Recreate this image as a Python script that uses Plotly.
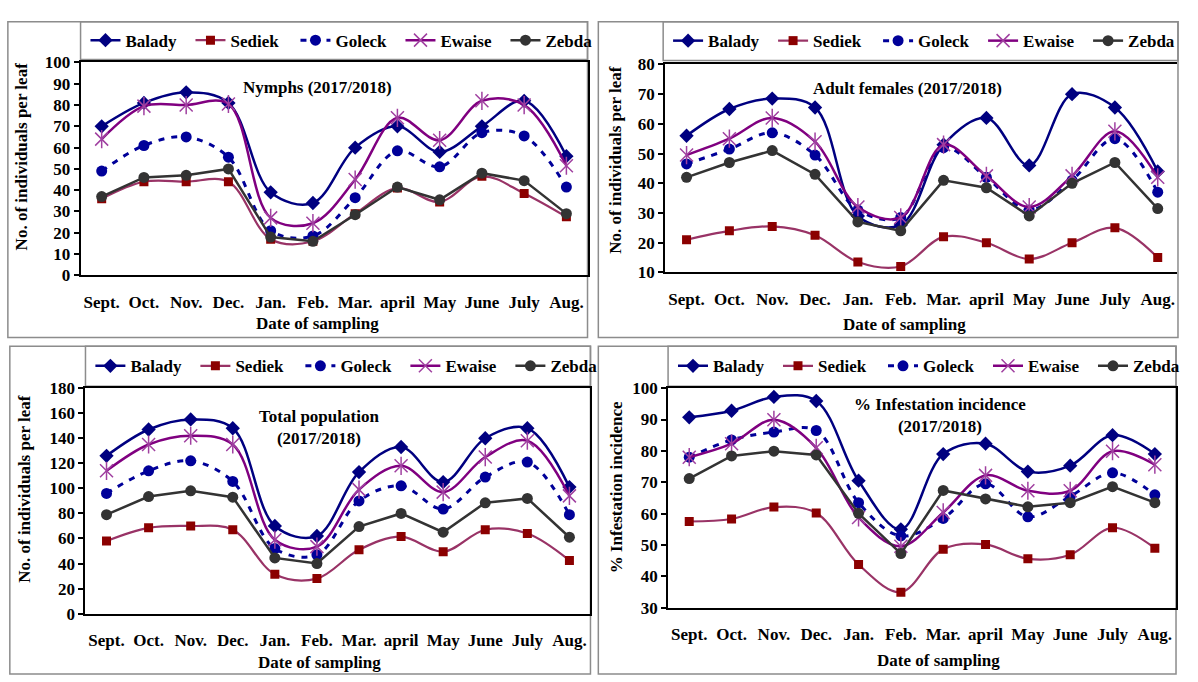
import plotly.graph_objects as go

W, H = 1198, 682

months = ["Sept.", "Oct.", "Nov.", "Dec.", "Jan.", "Feb.", "Mar.", "april", "May", "June", "July", "Aug."]
series_names = ["Balady", "Sediek", "Goleck", "Ewaise", "Zebda"]

# Nymphs
balady_n = [70, 81, 86, 81, 39, 34, 60, 70, 58, 70, 82, 56]
sediek_n = [36, 44, 44, 44, 17, 16, 29, 41, 34.5, 46.5, 38.5, 27.5]
goleck_n = [49, 61, 65, 55.5, 21, 18.5, 36.5, 58.5, 51, 67, 65.5, 41.5]
ewaise_n = [64, 79.5, 80, 80.5, 27, 24.5, 45, 74, 63.5, 82, 80, 51.5]
zebda_n = [37, 46, 47, 50, 18, 16, 28.5, 41.5, 35.5, 48, 44.5, 29]

# Adult females
balady_a = [56, 65, 68.5, 65.5, 29, 26, 53, 62, 46, 70, 65.5, 44]
sediek_a = [21, 24, 25.5, 22.5, 13.5, 12, 22, 20, 14.5, 20, 25, 15]
goleck_a = [46.5, 51.5, 57, 49.5, 31, 28.5, 52, 42, 31, 41, 55, 37]
ewaise_a = [49.5, 55, 62, 54, 32, 28.5, 53, 42.5, 32, 42.5, 57.5, 42]
zebda_a = [42, 47, 51, 43, 27, 24, 41, 38.5, 29, 40, 47, 31.5]

# Total population
balady_t = [126, 147, 155, 148, 70, 62, 113, 133, 105, 140, 148, 101]
sediek_t = [58, 68.5, 70, 67, 31.5, 28, 51, 61.5, 49.5, 67, 64, 42.5]
goleck_t = [96, 114, 122, 105.5, 52, 47, 90, 102, 83.5, 109, 121, 79]
ewaise_t = [114, 135, 142, 135, 59, 53.5, 99, 118, 97, 125, 138, 94]
zebda_t = [79, 93.5, 98, 93, 44.5, 40, 69.5, 80, 65, 88.5, 92, 61]

# % Infestation incidence
balady_i = [90.7, 92.8, 97.2, 95.9, 70.5, 55, 79, 82.3, 73.4, 75.3, 85, 79]
sediek_i = [57.5, 58.3, 62.1, 60.2, 43.8, 35, 48.7, 50.2, 45.6, 46.9, 55.5, 49]
goleck_i = [78, 83.5, 86, 86.5, 63.5, 52.9, 58.5, 69.5, 59, 65.5, 73, 66]
ewaise_i = [78, 82.3, 89.9, 81, 58.8, 49.6, 60.4, 72.2, 67.3, 67.3, 79.9, 75.6]
zebda_i = [71.2, 78.4, 79.9, 78.7, 60.1, 47.3, 67.4, 64.7, 62.2, 63.5, 68.6, 63.5]

panel_titles = ["Nymphs (2017/2018)", "Adult females (2017/2018)",
                "Total population<br>(2017/2018)", "% Infestation incidence<br>(2017/2018)"]
y_titles = ["No. of individuals per leaf", "No. of individuals per leaf",
            "No. of individuals per leaf", "% Infestation incidence"]
x_title = "Date of sampling"

panels_data = [
    [balady_n, sediek_n, goleck_n, ewaise_n, zebda_n],
    [balady_a, sediek_a, goleck_a, ewaise_a, zebda_a],
    [balady_t, sediek_t, goleck_t, ewaise_t, zebda_t],
    [balady_i, sediek_i, goleck_i, ewaise_i, zebda_i],
]

FONT = "Liberation Serif"
EW_MARK = "#A040A0"


def px(x):
    return x / W


def py(y):
    return 1 - y / H


styles = {
    "Balady": dict(line=dict(color="#000080", width=2.5, shape="spline"),
                   marker=dict(symbol="diamond", size=11, color="#000080")),
    "Sediek": dict(line=dict(color="#993366", width=2.2, shape="spline"),
                   marker=dict(symbol="square", size=9, color="#8B0000")),
    "Goleck": dict(line=dict(color="#000099", width=3, shape="spline", dash="6px,7px"),
                   marker=dict(symbol="circle", size=11, color="#000099")),
    "Ewaise": dict(line=dict(color="#800080", width=2.5, shape="spline"),
                   marker=dict(symbol="x-thin-open", size=13,
                               line=dict(color=EW_MARK, width=1.5), color=EW_MARK)),
    "Zebda": dict(line=dict(color="#333333", width=2.5, shape="linear"),
                  marker=dict(symbol="circle", size=11, color="#333333")),
}

# panel geometry in pixels: plot left, right, top, bottom
geo = [
    dict(l=82, r=598, t=55, b=274, yr=[0, 100], dt=10, xr=[-0.5, 11.5],
         box=(8, 13, 598, 338), leg=(82, 13, 598, 52)),
    dict(l=677, r=1198, t=57, b=271, yr=[10, 80], dt=10, xr=[-0.5, 11.45],
         box=(609, 13, 1199, 338), leg=(675, 13, 1199, 53)),
    dict(l=87, r=601, t=390, b=622, yr=[0, 180], dt=20, xr=[-0.5, 11.5],
         box=(10, 347, 601, 684), leg=(87, 347, 601, 388)),
    dict(l=680, r=1197, t=390, b=616, yr=[30, 100], dt=10, xr=[-0.5, 11.5],
         box=(609, 347, 1197, 684), leg=(680, 347, 1197, 388)),
]

title_pos = [(323, 81), (924, 82), (325, 430), (957, 418)]
ytitle_pos = [(22, 152), (627, 155), (25, 494), (627, 492)]
xtitle_pos = [(323, 324), (921, 325), (325, 672), (955, 670)]

fig = go.Figure()
layout = dict(width=W, height=H, margin=dict(l=0, r=0, t=0, b=0),
              paper_bgcolor="white", plot_bgcolor="white",
              font=dict(family=FONT, size=16, color="black", weight="bold"))
annotations = []
shapes = []

for k in range(4):
    g = geo[k]
    sfx = "" if k == 0 else str(k + 1)
    legname = "legend" + sfx
    for name, vals in zip(series_names, panels_data[k]):
        st = styles[name]
        fig.add_trace(go.Scatter(
            x=months, y=vals, name=name, mode="lines+markers",
            line=st["line"], marker=st["marker"],
            xaxis="x" + sfx, yaxis="y" + sfx, legend=legname, legendgroup=name,
        ))
        if name == "Ewaise":
            # vertical stroke that turns the x marker into a star marker
            fig.add_trace(go.Scatter(
                x=months, y=vals, name=name, mode="markers", showlegend=False,
                marker=dict(symbol="line-ns-open", size=13, color=EW_MARK,
                            line=dict(color=EW_MARK, width=1.5)),
                xaxis="x" + sfx, yaxis="y" + sfx, legend=legname, legendgroup=name,
                hoverinfo="skip",
            ))
    layout["xaxis" + sfx] = dict(
        domain=[px(g["l"]), min(1.0, px(g["r"]))], anchor="y" + sfx,
        type="category", range=g["xr"], showgrid=False, zeroline=False,
        showline=True, linecolor="black", linewidth=2, mirror=True,
        ticks="", tickfont=dict(family=FONT, size=17, weight="bold"),
        ticklabelstandoff=10,
    )
    layout["yaxis" + sfx] = dict(
        domain=[py(g["b"]), py(g["t"])], anchor="x" + sfx,
        range=g["yr"], dtick=g["dt"], showgrid=False, zeroline=False,
        showline=True, linecolor="black", linewidth=2, mirror=(k != 1),
        ticks="outside", ticklen=5, tickwidth=1.5, tickcolor="black",
        tickfont=dict(family=FONT, size=17, weight="bold"),
    )
    lx0, ly0, lx1, ly1 = g["leg"]
    layout[legname] = dict(
        orientation="h", x=px(lx0 + 5), y=py((ly0 + ly1) / 2),
        xanchor="left", yanchor="middle", bgcolor="rgba(0,0,0,0)",
        borderwidth=0, font=dict(family=FONT, size=17, weight="bold"),
        entrywidth=60, entrywidthmode="pixels", itemwidth=30,
        tracegroupgap=0,
    )
    bx0, by0, bx1, by1 = g["box"]
    shapes.append(dict(type="rect", xref="paper", yref="paper",
                       x0=px(bx0), x1=px(bx1), y0=py(by1), y1=py(by0),
                       line=dict(color="#8c8c8c", width=1.5), layer="below"))
    shapes.append(dict(type="rect", xref="paper", yref="paper",
                       x0=px(lx0), x1=px(lx1), y0=py(ly1), y1=py(ly0),
                       line=dict(color="#8c8c8c", width=1.5), layer="below"))
    tx, ty = title_pos[k]
    annotations.append(dict(text=panel_titles[k], x=px(tx), y=py(ty), xref="paper", yref="paper",
                            showarrow=False, xanchor="center", yanchor="middle",
                            font=dict(family=FONT, size=17, weight="bold")))
    yx, yy = ytitle_pos[k]
    annotations.append(dict(text=y_titles[k], x=px(yx), y=py(yy), xref="paper", yref="paper",
                            showarrow=False, textangle=-90, xanchor="center", yanchor="middle",
                            font=dict(family=FONT, size=17, weight="bold")))
    xx, xy = xtitle_pos[k]
    annotations.append(dict(text=x_title, x=px(xx), y=py(xy), xref="paper", yref="paper",
                            showarrow=False, xanchor="center", yanchor="middle",
                            font=dict(family=FONT, size=17, weight="bold")))

layout["annotations"] = annotations
layout["shapes"] = shapes
fig.update_layout(**layout)
fig.write_html("out.html", config={"displayModeBar": False},
               post_script="document.body.style.margin='0';document.body.style.overflow='hidden';")
